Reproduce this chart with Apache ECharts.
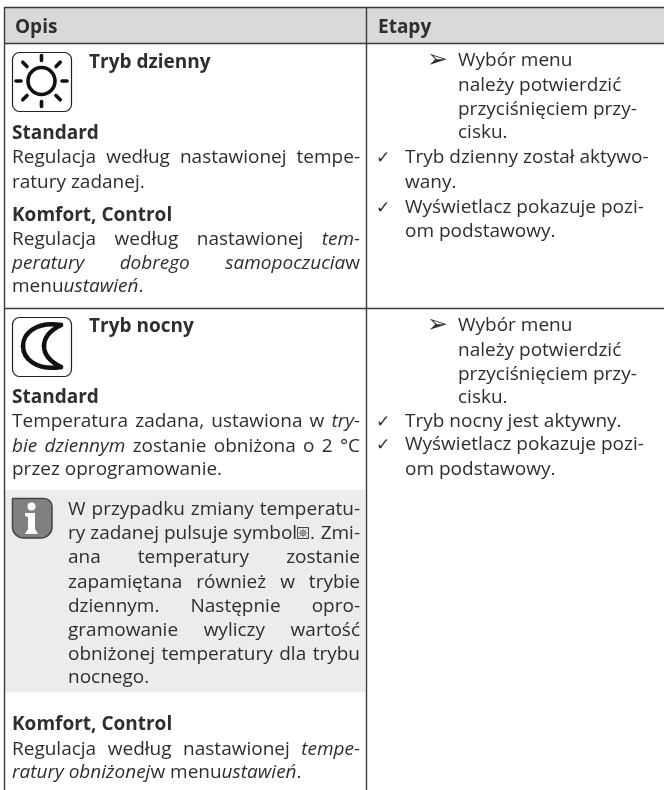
<!DOCTYPE html>
<html><head><meta charset="utf-8">
<style>html,body{margin:0;padding:0;background:#fff}#c{width:664px;height:790px}</style>
<script src="https://cdn.jsdelivr.net/npm/echarts@6/dist/echarts.min.js"></script>
</head><body><div id="c"></div>
<script>
const FONT = 'Open Sans';
const SIZE = 19;
const BOLD_SIZE = 19;
const INK = '#2e2e2e';
// text: [x, baseline, text, style, justifiedRightEdge]; *...* marks italics
const headers = [[15,33,'Opis','b'],[378,33,'Etapy','b']];
const descDay = [
 [89,68,'Tryb dzienny','b'],
 [12,139,'Standard','b'],
 [12,163,'Regulacja według nastawionej tempe-','n',360],
 [12,188,'ratury zadanej.','n'],
 [12,221,'Komfort, Control','b'],
 [12,245,'Regulacja według nastawionej *tem-*','n',360],
 [12,269,'*peratury dobrego samopoczucia*w','n',360],
 [12,292,'menu*ustawień*.','n']
];
const descNight = [
 [89,332,'Tryb nocny','b'],
 [12,403,'Standard','b'],
 [12,427,'Temperatura zadana, ustawiona w *try-*','n',360],
 [12,452,'*bie dziennym* zostanie obniżona o 2 °C','n',360],
 [12,475,'przez oprogramowanie.','n'],
 [12,730,'Komfort, Control','b'],
 [12,755,'Regulacja według nastawionej *tempe-*','n',360],
 [12,778,'*ratury obniżonej*w menu*ustawień*.','n']
];
const note = [
 [68,515,'W przypadku zmiany temperatu-','n',360],
 [68,539,'ry zadanej pulsuje symbol','n'],
 [68,563,'ana temperatury zostanie','n',360],
 [68,588,'zapamiętana również w trybie','n',360],
 [68,612,'dziennym. Następnie opro-','n',360],
 [68,636,'gramowanie wyliczy wartość','n',360],
 [68,660,'obniżonej temperatury dla trybu','n',360],
 [68,683,'nocnego.','n']
];
const noteTail = [[310,539,'. Zmi-','n',360]];
const stepsDay = [
 [458,66,'Wybór menu','n'],[458,91,'należy potwierdzić','n'],[458,115,'przyciśnięciem przy-','n'],[458,138,'cisku.','n'],
 [405,163,'Tryb dzienny został aktywo-','n'],[405,188,'wany.','n'],[405,213,'Wyświetlacz pokazuje pozi-','n'],[405,237,'om podstawowy.','n']
];
const stepsNight = [
 [458,331,'Wybór menu','n'],[458,356,'należy potwierdzić','n'],[458,380,'przyciśnięciem przy-','n'],[458,403,'cisku.','n'],
 [405,427,'Tryb nocny jest aktywny.','n'],[405,450,'Wyświetlacz pokazuje pozi-','n'],[405,475,'om podstawowy.','n']
];
const arrows = [[427,67],[427,332]];
const checks = [[376,163],[376,213],[376,427],[376,450]];

const ctx = document.createElement('canvas').getContext('2d');
function fontOf(b,i){return (i?'italic ':'')+(b?'bold ':'')+(b?BOLD_SIZE:SIZE)+'px "'+FONT+'"';}
function mw(s,b,i){ctx.font=fontOf(b,i);return ctx.measureText(s).width;}
const g = [];
function T(x,y,s,b,i,font,size){
  const f=font?(font.indexOf('bold')===0?('bold '+size+'px "'+font.slice(5)+'"'):(size+'px "'+font+'"')):fontOf(b,i);
  ctx.font=f;ctx.textBaseline='middle';
  const m=ctx.measureText('x');
  const off=(m.alphabeticBaseline!==undefined)?m.alphabeticBaseline:-0.35*(size||SIZE);
  g.push({type:'text',x:x,y:y+off,silent:true,style:{text:s,fill:INK,verticalAlign:'middle',font:f}});
}
function drawLine(l){
  const [x,y,txt,st,right]=l; const b=st==='b';
  const frags=[];
  txt.split('*').forEach((p,k)=>{ if(p) frags.push({s:p,i:k%2===1}); });
  const words=[];let cur=[];
  frags.forEach(f=>{
    f.s.split(' ').forEach((w,k)=>{ if(k>0){words.push(cur);cur=[];} if(w) cur.push({s:w,i:f.i}); });
  });
  words.push(cur);
  const wid=ws=>ws.reduce((a,f)=>a+mw(f.s,b,f.i),0);
  const total=words.reduce((a,w)=>a+wid(w),0);
  let sp=mw(' ',b,false);
  if(right&&words.length>1) sp=(right-x-total)/(words.length-1);
  let px=x;
  words.forEach(w=>{w.forEach(f=>{T(px,y,f.s,b,f.i);px+=mw(f.s,b,f.i);});px+=sp;});
}
g.push({type:'rect',shape:{x:5,y:8,width:659,height:35},style:{fill:'#d9d9d9'}});
g.push({type:'rect',shape:{x:5,y:490,width:360,height:202},style:{fill:'#ececec'}});
const lineC='#3a3a3a';
[[4,7,664,7],[4,43,664,43],[4,308,664,308]].forEach(a=>g.push({type:'line',shape:{x1:a[0],y1:a[1]+.5,x2:a[2],y2:a[3]+.5},style:{stroke:lineC,lineWidth:1.4}}));
[[4,7,4,790],[366,7,366,790]].forEach(a=>g.push({type:'line',shape:{x1:a[0]+.5,y1:a[1],x2:a[2]+.5,y2:a[3]},style:{stroke:lineC,lineWidth:1.4}}));
// sun icon
g.push({type:'rect',shape:{x:12.5,y:52.5,width:59,height:59,r:7},style:{fill:'#fff',stroke:'#222',lineWidth:1.2}});
g.push({type:'circle',shape:{cx:41.5,cy:81,r:13.5},style:{fill:'#fff',stroke:'#111',lineWidth:3.6}});
for(let k=0;k<8;k++){const a=k*Math.PI/4,r1=20.5,r2=k%2?26.5:25.5;
 g.push({type:'line',shape:{x1:41.5+r1*Math.cos(a),y1:81+r1*Math.sin(a),x2:41.5+r2*Math.cos(a),y2:81+r2*Math.sin(a)},style:{stroke:'#111',lineWidth:3.6,lineCap:'round'}});}
// moon icon
g.push({type:'rect',shape:{x:12.5,y:317.5,width:59,height:59,r:7},style:{fill:'#fff',stroke:'#222',lineWidth:1.2}});
[[61,325,23,346,37,321,23,333],[23,346,61,367,23,359,37,371],[61,367,44,346,51,362,44,355],[44,346,61,325,44,337,51,330]].forEach(a=>
 g.push({type:'bezierCurve',shape:{x1:a[0],y1:a[1],x2:a[2],y2:a[3],cpx1:a[4],cpy1:a[5],cpx2:a[6],cpy2:a[7]},style:{fill:'none',stroke:'#111',lineWidth:4.5,lineCap:'round'}}));
// info icon
g.push({type:'rect',shape:{x:12.5,y:498.5,width:39.5,height:39.5,r:[0,8,11,11]},style:{fill:'#808080',stroke:'#444',lineWidth:1.5}});
g.push({type:'circle',shape:{cx:31.5,cy:506.5,r:4},style:{fill:'#fff'}});
g.push({type:'polygon',shape:{points:[[25,513],[35,513],[35,529],[38,534],[25,534],[28,529],[28,517],[25,516]]},style:{fill:'#fff'}});
// tiny pulsing symbol
g.push({type:'rect',shape:{x:297.5,y:527.5,width:11,height:11},style:{fill:'none',stroke:'#444',lineWidth:1}});
g.push({type:'circle',shape:{cx:303,cy:533,r:2.5},style:{fill:'none',stroke:'#444',lineWidth:1}});
[[298.5,528.5,307.5,537.5],[307.5,528.5,298.5,537.5],[303,528,303,538],[298,533,308,533]].forEach(a=>g.push({type:'line',shape:{x1:a[0],y1:a[1],x2:a[2],y2:a[3]},style:{stroke:'#777',lineWidth:.6}}));
[].concat(headers,descDay,descNight,note,noteTail,stepsDay,stepsNight).forEach(drawLine);
arrows.forEach(a=>T(a[0],a[1],'➢',false,false,'DejaVu Sans',25));
checks.forEach(a=>T(a[0],a[1],'✓',false,false,'bold DejaVu Sans',17));
const chart=echarts.init(document.getElementById('c'),null,{renderer:'canvas'});
chart.setOption({animation:false,backgroundColor:'#fff',graphic:{elements:g}});
</script></body></html>
